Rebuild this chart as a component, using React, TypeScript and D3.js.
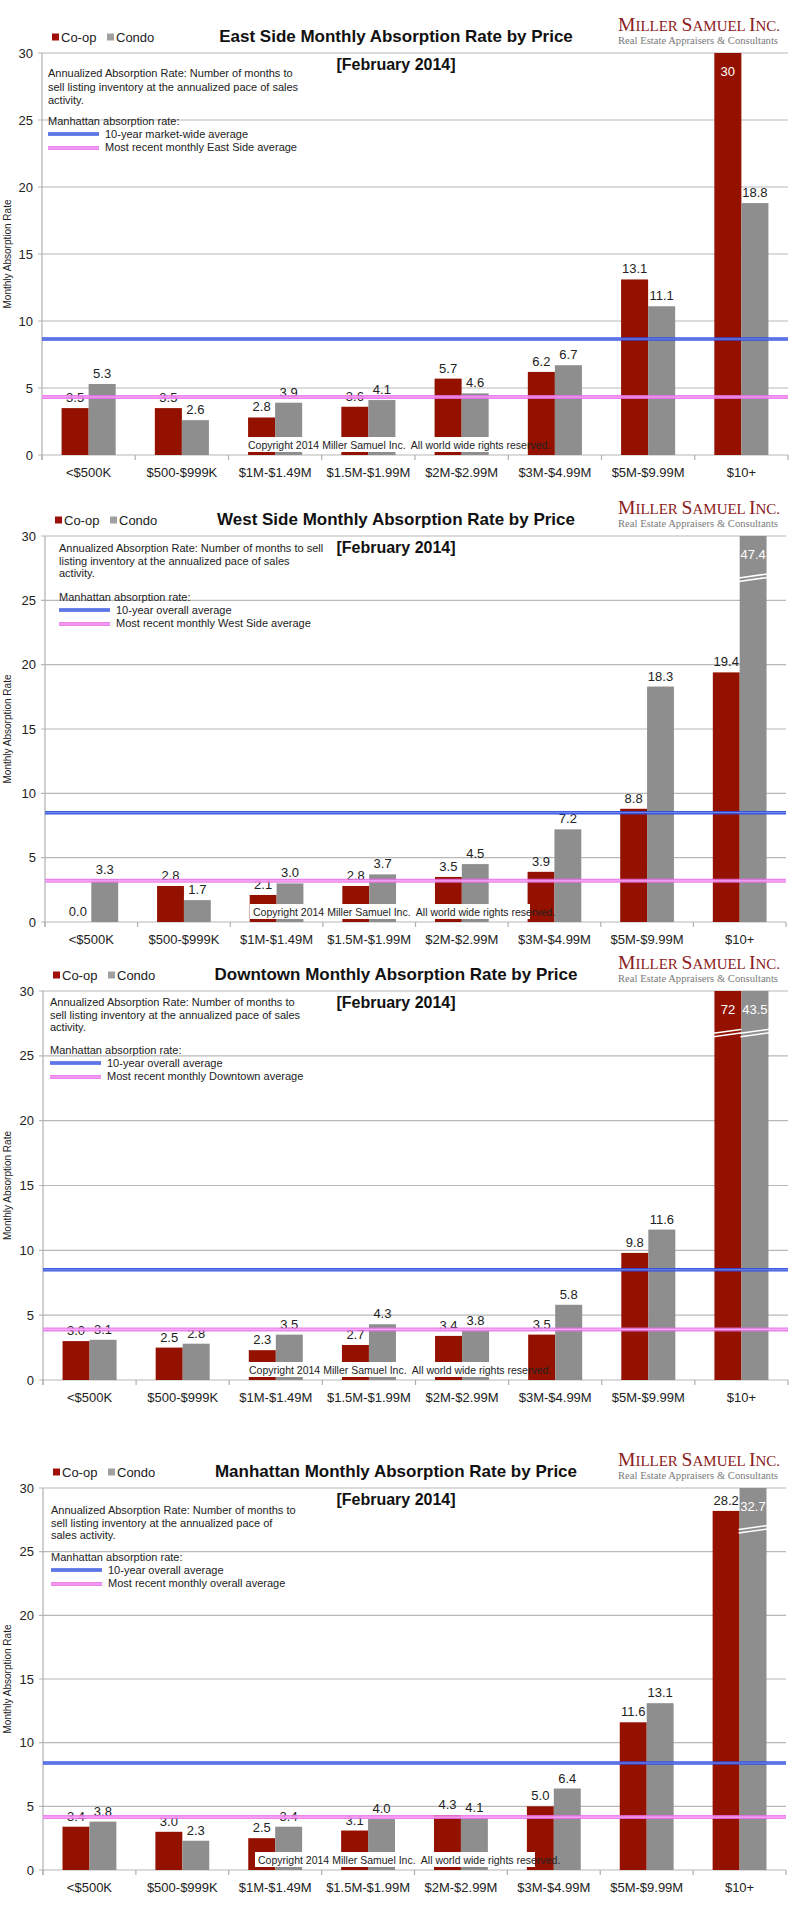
import React from 'react';
import * as d3 from 'd3';

const categories = ['<$500K', '$500-$999K', '$1M-$1.49M', '$1.5M-$1.99M', '$2M-$2.99M', '$3M-$4.99M', '$5M-$9.99M', '$10+'];
const yTicks = [0, 5, 10, 15, 20, 25, 30];
const yMax = 30;

const titles = [
  'East Side Monthly Absorption Rate by Price',
  'West Side Monthly Absorption Rate by Price',
  'Downtown Monthly Absorption Rate by Price',
  'Manhattan Monthly Absorption Rate by Price',
];
const subtitle = '[February 2014]';

const eastCoop = [3.5, 3.5, 2.8, 3.6, 5.7, 6.2, 13.1, 30];
const eastCondo = [5.3, 2.6, 3.9, 4.1, 4.6, 6.7, 11.1, 18.8];
const westCoop = [0.0, 2.8, 2.1, 2.8, 3.5, 3.9, 8.8, 19.4];
const westCondo = [3.3, 1.7, 3.0, 3.7, 4.5, 7.2, 18.3, 47.4];
const downCoop = [3.0, 2.5, 2.3, 2.7, 3.4, 3.5, 9.8, 72];
const downCondo = [3.1, 2.8, 3.5, 4.3, 3.8, 5.8, 11.6, 43.5];
const manCoop = [3.4, 3.0, 2.5, 3.1, 4.3, 5.0, 11.6, 28.2];
const manCondo = [3.8, 2.3, 3.4, 4.0, 4.1, 6.4, 13.1, 32.7];

// 10-year average and most recent monthly average lines
const tenYearAvg = [8.66, 8.5, 8.5, 8.4];
const recentAvg = [4.33, 3.2, 3.9, 4.16];

const noteLines = [
  ['Annualized Absorption Rate: Number of months to', 'sell listing inventory at the annualized pace of sales', 'activity.'],
  ['Annualized Absorption Rate: Number of months to sell', 'listing inventory at the annualized pace of sales', 'activity.'],
  ['Annualized Absorption Rate: Number of months to', 'sell listing inventory at the annualized pace of sales', 'activity.'],
  ['Annualized Absorption Rate: Number of months to', 'sell listing inventory at the annualized pace of', 'sales activity.'],
];
const tenYearLabels = ['10-year market-wide average', '10-year overall average', '10-year overall average', '10-year overall average'];
const recentLabels = [
  'Most recent monthly East Side average',
  'Most recent monthly West Side average',
  'Most recent monthly Downtown average',
  'Most recent monthly overall average',
];

const coopData = [eastCoop, westCoop, downCoop, manCoop];
const condoData = [eastCondo, westCondo, downCondo, manCondo];

// page layout of each chart panel
const layouts = [
  { top: 53, zero: 455, left: 42, right: 788, noteX: 48, noteY: 73, gap: 13.5, legY: 121, copyX: 245 },
  { top: 536, zero: 922, left: 45, right: 786, noteX: 59, noteY: 548, gap: 12.5, legY: 597, copyX: 250 },
  { top: 991, zero: 1380, left: 43, right: 788, noteX: 50, noteY: 1002, gap: 12.5, legY: 1050, copyX: 246 },
  { top: 1488, zero: 1870, left: 43, right: 786, noteX: 51, noteY: 1510, gap: 12.5, legY: 1557, copyX: 255 },
];

const FONT = '"Liberation Sans", Arial, sans-serif';
const SERIF = '"Liberation Serif", "DejaVu Serif", serif';
const RED = '#941100';
const GRAY = '#8e8e8e';
const BLUE = '#2c4ae0';
const PINK = '#ea6fea';

function AvgLine({ x1, x2, y, kind }: { x1: number; x2: number; y: number; kind: 'blue' | 'pink' }) {
  if (kind === 'blue') {
    return (
      <g>
        <line x1={x1} x2={x2} y1={y} y2={y} stroke={BLUE} strokeWidth={3.5} opacity={0.9} />
        <line x1={x1} x2={x2} y1={y} y2={y} stroke="#8196f0" strokeWidth={1} opacity={0.9} />
      </g>
    );
  }
  return (
    <g>
      <line x1={x1} x2={x2} y1={y} y2={y} stroke={PINK} strokeWidth={4} opacity={0.85} />
      <line x1={x1} x2={x2} y1={y} y2={y} stroke="#f8b4f8" strokeWidth={1.2} opacity={0.9} />
    </g>
  );
}

function Chart({ i }: { i: number }) {
  const L = layouts[i];
  const coop = coopData[i];
  const condo = condoData[i];

  const x = d3.scaleBand<string>().domain(categories).range([L.left, L.right]).paddingInner(0.42).paddingOuter(0.21);
  const xs = d3.scaleBand<string>().domain(['coop', 'condo']).range([0, x.bandwidth()]);
  const y = d3.scaleLinear().domain([0, yMax]).range([L.zero, L.top]);
  const step = x.step();
  const bw = xs.bandwidth();

  const bars = categories.flatMap((c, k) => [
    { c, s: 'coop', v: coop[k], color: RED },
    { c, s: 'condo', v: condo[k], color: GRAY },
  ]);

  const mid = (L.top + L.zero) / 2;

  return (
    <g>
      {/* header */}
      <rect x={L.left + 10} y={L.top - 19.5} width={7} height={7} fill="#a10f0a" />
      <text x={L.left + 19} y={L.top - 11.5} fontSize={13} fontFamily={FONT} fill="#222">Co-op</text>
      <rect x={L.left + 65} y={L.top - 19.5} width={7} height={7} fill="#a0a0a0" />
      <text x={L.left + 74} y={L.top - 11.5} fontSize={13} fontFamily={FONT} fill="#222">Condo</text>
      <text x={396} y={L.top - 11} fontSize={17} fontWeight="bold" fontFamily={FONT} textAnchor="middle" fill="#111">{titles[i]}</text>
      <text x={396} y={L.top + 17} fontSize={16} fontWeight="bold" fontFamily={FONT} textAnchor="middle" fill="#111">{subtitle}</text>
      <text x={618} y={L.top - 22} fontFamily={SERIF} fill="#8c2020" textLength={162} lengthAdjust="spacingAndGlyphs">
        <tspan fontSize={19}>M</tspan><tspan fontSize={14.5}>ILLER </tspan>
        <tspan fontSize={19}>S</tspan><tspan fontSize={14.5}>AMUEL </tspan>
        <tspan fontSize={19}>I</tspan><tspan fontSize={14.5}>NC.</tspan>
      </text>
      <text x={618} y={L.top - 9} fontSize={10.5} fontFamily={SERIF} fill="#7a7a7a" textLength={160} lengthAdjust="spacingAndGlyphs">
        Real Estate Appraisers &amp; Consultants
      </text>

      {/* grid */}
      {yTicks.map(t => (
        <g key={t}>
          <line x1={L.left - 4} x2={L.right} y1={y(t)} y2={y(t)} stroke="#b8b8b8" strokeWidth={1.2} />
          <text x={L.left - 9} y={y(t) + 4.5} fontSize={13} fontFamily={FONT} textAnchor="end" fill="#222">{t}</text>
        </g>
      ))}
      <line x1={L.left} x2={L.left} y1={L.top} y2={L.zero + 5} stroke="#b0b0b0" strokeWidth={1.2} />
      {d3.range(categories.length + 1).map(k => (
        <line key={k} x1={L.left + k * step} x2={L.left + k * step} y1={L.zero} y2={L.zero + 5} stroke="#b0b0b0" strokeWidth={1.2} />
      ))}
      <text transform={`translate(11,${mid}) rotate(-90)`} fontSize={10} fontFamily={FONT} textAnchor="middle" fill="#222">Monthly Absorption Rate</text>

      {/* note */}
      {noteLines[i].map((s, k) => (
        <text key={k} x={L.noteX} y={L.noteY + 4 + k * L.gap} fontSize={11} fontFamily={FONT} fill="#222">{s}</text>
      ))}
      <text x={L.noteX} y={L.legY + 4} fontSize={11} fontFamily={FONT} fill="#222">Manhattan absorption rate:</text>
      <AvgLine x1={L.noteX} x2={L.noteX + 51} y={L.legY + 13} kind="blue" />
      <text x={L.noteX + 57} y={L.legY + 17} fontSize={11} fontFamily={FONT} fill="#222">{tenYearLabels[i]}</text>
      <AvgLine x1={L.noteX} x2={L.noteX + 51} y={L.legY + 27} kind="pink" />
      <text x={L.noteX + 57} y={L.legY + 30} fontSize={11} fontFamily={FONT} fill="#222">{recentLabels[i]}</text>

      {/* bars */}
      {bars.map((b, k) => {
        const bx = (x(b.c) ?? 0) + (xs(b.s) ?? 0);
        const by = y(Math.min(b.v, yMax));
        const broken = b.v > yMax;
        const by2 = y(26.9);
        return (
          <g key={k}>
            <rect x={bx} y={by} width={bw} height={L.zero - by} fill={b.color} />
            {broken && (
              <g>
                <line x1={bx - 1} x2={bx + bw + 1} y1={by2 + 2} y2={by2 - 2} stroke="#fff" strokeWidth={1.5} />
                <line x1={bx - 1} x2={bx + bw + 1} y1={by2 + 5.5} y2={by2 + 1.5} stroke="#fff" strokeWidth={1.5} />
              </g>
            )}
          </g>
        );
      })}

      {/* copyright */}
      <rect x={L.copyX} y={L.zero - 18} width={280} height={15} fill="#fff" />
      <text x={L.copyX + 3} y={L.zero - 6.5} fontSize={10.5} fontFamily={FONT} fill="#222" style={{ whiteSpace: 'pre' }}>
        {'Copyright 2014 Miller Samuel Inc.  All world wide rights reserved.'}
      </text>

      {/* value labels */}
      {bars.map((b, k) => {
        const cx = (x(b.c) ?? 0) + (xs(b.s) ?? 0) + bw / 2;
        const inside = b.v >= yMax;
        const ly = inside ? L.top + 23 : y(b.v) - 6;
        return (
          <text key={k} x={cx} y={ly} fontSize={13} fontFamily={FONT} textAnchor="middle" fill={inside ? '#fff' : '#222'}>
            {b.v.toFixed(b.v >= yMax && Number.isInteger(b.v) ? 0 : 1)}
          </text>
        );
      })}

      {/* average lines */}
      <AvgLine x1={L.left} x2={L.right} y={y(tenYearAvg[i])} kind="blue" />
      <AvgLine x1={L.left} x2={L.right} y={y(recentAvg[i])} kind="pink" />

      {/* x labels */}
      {categories.map(c => (
        <text key={c} x={(x(c) ?? 0) + x.bandwidth() / 2} y={L.zero + 22} fontSize={13} fontFamily={FONT} textAnchor="middle" fill="#222">{c}</text>
      ))}
    </g>
  );
}

export default function App() {
  return (
    <svg width={800} height={1908} style={{ position: 'absolute', left: 0, top: 0, background: '#fff' }}>
      <rect width={800} height={1908} fill="#fff" />
      {layouts.map((_, i) => <Chart key={i} i={i} />)}
    </svg>
  );
}
